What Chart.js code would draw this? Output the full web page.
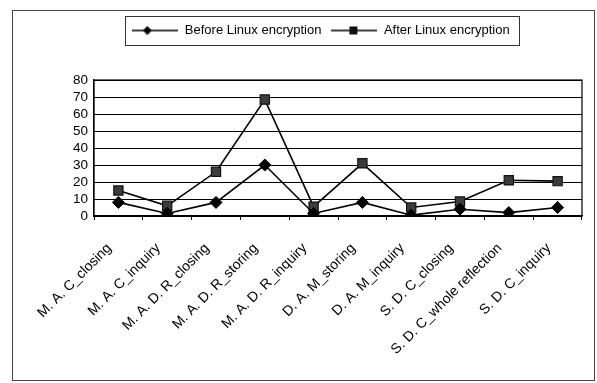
<!DOCTYPE html>
<html>
<head>
<meta charset="utf-8">
<script src="https://cdn.jsdelivr.net/npm/chart.js@4"></script>
<style>
    html, body { margin: 0; padding: 0; background: #fff; }
    #wrap { width: 597px; height: 383px; }
</style>
</head>
<body>
<div id="wrap"><canvas id="myLineChart" width="597" height="383"></canvas></div>
<script>
const categories = ['M. A. C_closing', 'M. A. C_inquiry', 'M. A. D. R_closing', 'M. A. D. R_storing', 'M. A. D. R_inquiry',
    'D. A. M_storing', 'D. A. M_inquiry', 'S. D. C_closing', 'S. D. C_whole reflection', 'S. D. C_inquiry'];
const beforeValues = [8, 1.5, 8, 30, 1.5, 8, 0.5, 4, 2, 5];
const afterValues = [15, 6, 26, 68.5, 5.5, 31, 5, 8.5, 21, 20.5];
const seriesNames = ['Before Linux encryption', 'After Linux encryption'];
const yMin = 0;
const yMax = 80;
const yStep = 10;

const FONT = '"Liberation Sans", Arial, sans-serif';

// little line+marker pictures for the legend
function legendMarker(kind) {
    const c = document.createElement('canvas');
    c.width = 46;
    c.height = 12;
    const g = c.getContext('2d');
    g.strokeStyle = '#000';
    g.lineWidth = 1.6;
    g.beginPath();
    g.moveTo(0, 6);
    g.lineTo(46, 6);
    g.stroke();
    if (kind === 'diamond') {
        g.fillStyle = '#000';
        g.beginPath();
        g.moveTo(15, 1.5);
        g.lineTo(19.5, 6);
        g.lineTo(15, 10.5);
        g.lineTo(10.5, 6);
        g.closePath();
        g.fill();
    } else {
        g.fillStyle = '#111';
        g.fillRect(18, 2, 8, 8);
    }
    return c;
}

const frames = {
    id: 'frames',
    beforeDraw(chart) {
        const ctx = chart.ctx;
        ctx.save();
        ctx.fillStyle = '#fff';
        ctx.fillRect(0, 0, chart.width, chart.height);
        ctx.strokeStyle = '#444';
        ctx.lineWidth = 1;
        ctx.strokeRect(12.5, 10.5, 582, 370);
        ctx.restore();
    },
    afterDraw(chart) {
        const ctx = chart.ctx;
        const a = chart.chartArea;
        ctx.save();
        ctx.strokeStyle = '#000';
        ctx.lineWidth = 1.2;
        ctx.strokeRect(a.left, a.top, a.right - a.left, a.bottom - a.top);

        // box round the legend
        const boxes = chart.legend.legendHitBoxes;
        if (boxes && boxes.length) {
            const left = Math.min(...boxes.map(b => b.left)) - 7;
            const right = Math.max(...boxes.map(b => b.left + b.width)) + 10;
            const top = boxes[0].top - 8;
            const bottom = boxes[0].top + boxes[0].height + 8;
            ctx.strokeStyle = '#333';
            ctx.lineWidth = 1;
            ctx.strokeRect(Math.round(left) + 0.5, Math.round(top) + 0.5, Math.round(right - left), Math.round(bottom - top));
        }
        ctx.restore();
    }
};

let myLineChart;

function drawLineChart() {
    let ctx = document.getElementById('myLineChart').getContext('2d');

    myLineChart = new Chart(ctx, {
        type: 'line',
        data: {
            labels: categories,
            datasets: [{
                label: seriesNames[0],
                data: beforeValues,
                borderColor: '#000',
                borderWidth: 1.6,
                backgroundColor: '#000',
                pointStyle: 'rectRot',
                pointRadius: 6,
                pointBorderWidth: 1,
                pointBackgroundColor: '#000',
                pointBorderColor: '#000',
                tension: 0,
                order: 1
            }, {
                label: seriesNames[1],
                data: afterValues,
                borderColor: '#000',
                borderWidth: 1.6,
                backgroundColor: '#3a3a3a',
                pointStyle: 'rect',
                pointRadius: 6.5,
                pointBorderWidth: 1.2,
                pointBackgroundColor: '#3c3c3c',
                pointBorderColor: '#111',
                tension: 0,
                order: 2
            }]
        },
        options: {
            responsive: false,
            animation: false,
            layout: {
                padding: { left: 60, right: 15, top: 14, bottom: 0 }
            },
            scales: {
                x: {
                    offset: true,
                    grid: {
                        display: true,
                        drawOnChartArea: false,
                        drawTicks: true,
                        tickLength: 4,
                        color: '#000',
                        offset: true
                    },
                    border: { display: true, color: '#000', width: 1.2 },
                    ticks: {
                        autoSkip: false,
                        minRotation: 45,
                        maxRotation: 45,
                        padding: 20,
                        labelOffset: -9,
                        color: '#000',
                        font: { family: FONT, size: 14 }
                    },
                    afterFit(scale) {
                        scale.height = 167;
                    }
                },
                y: {
                    min: yMin,
                    max: yMax,
                    grid: {
                        color: '#000',
                        lineWidth: 1,
                        drawTicks: false
                    },
                    border: { display: true, color: '#000', width: 1.2 },
                    ticks: {
                        stepSize: yStep,
                        autoSkip: false,
                        padding: 6,
                        color: '#000',
                        font: { family: FONT, size: 13.5 }
                    },
                    afterFit(scale) {
                        scale.width = 34;
                    }
                }
            },
            plugins: {
                legend: {
                    display: true,
                    position: 'top',
                    labels: {
                        usePointStyle: true,
                        pointStyleWidth: 46,
                        padding: 10,
                        color: '#000',
                        font: { family: FONT, size: 13 },
                        generateLabels(chart) {
                            return chart.data.datasets.map((ds, i) => ({
                                text: ds.label,
                                datasetIndex: i,
                                pointStyle: legendMarker(i === 0 ? 'diamond' : 'square'),
                                fillStyle: '#000',
                                strokeStyle: '#000',
                                lineWidth: 0,
                                hidden: false
                            }));
                        }
                    }
                },
                // empty title used only as a gap under the legend
                title: {
                    display: true,
                    text: ' ',
                    weight: 500,
                    font: { size: 10, lineHeight: 1 },
                    padding: { top: 0, bottom: 23 }
                },
                tooltip: { enabled: false }
            }
        },
        plugins: [frames]
    });
}

drawLineChart();
</script>
</body>
</html>
